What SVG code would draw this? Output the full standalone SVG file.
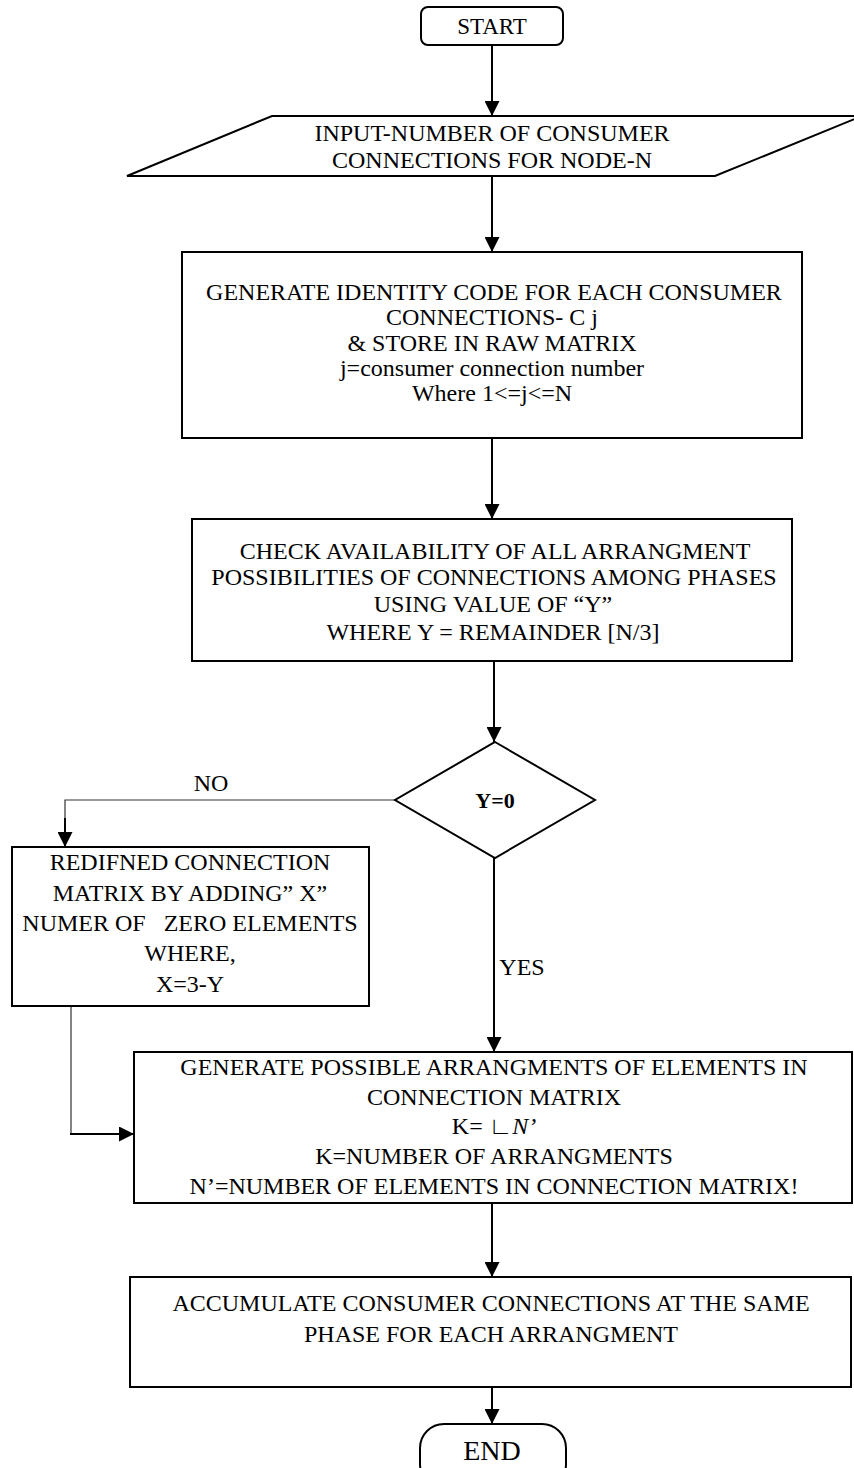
<svg xmlns="http://www.w3.org/2000/svg" width="854" height="1468" viewBox="0 0 854 1468">
<style>
  .box { fill: #fff; stroke: #000; stroke-width: 2; }
  .t { font-family: "Liberation Serif", "Times New Roman", serif; font-size: 24px; fill: #000; text-anchor: middle; white-space: pre; }
  .conn { fill: none; stroke: #000; stroke-width: 2; }
  .thin { fill: none; stroke: #333; stroke-width: 1.2; }
</style>
<defs>
  <marker id="arr" viewBox="0 0 15 15" refX="15" refY="7.5" markerWidth="15" markerHeight="15" markerUnits="userSpaceOnUse" orient="auto">
    <path d="M0,0 L15,7.5 L0,15 Z" fill="#000"/>
  </marker>
</defs>
<rect width="854" height="1468" fill="#fff"/>

<g id="connectors">
  <line class="conn" x1="492" y1="45" x2="492" y2="116" marker-end="url(#arr)"/>
  <line class="conn" x1="492" y1="176" x2="492" y2="252" marker-end="url(#arr)"/>
  <line class="conn" x1="492" y1="438" x2="492" y2="519" marker-end="url(#arr)"/>
  <line class="conn" x1="494" y1="661" x2="494" y2="742" marker-end="url(#arr)"/>
  <polyline class="thin" points="395,800 65,800 65,820"/>
  <line class="conn" x1="65" y1="818" x2="65" y2="847" marker-end="url(#arr)"/>
  <line class="conn" x1="494" y1="858" x2="494" y2="1052" marker-end="url(#arr)"/>
  <polyline class="thin" points="71,1006 71,1134 80,1134"/>
  <line class="conn" x1="70" y1="1134" x2="134" y2="1134" marker-end="url(#arr)"/>
  <line class="conn" x1="492" y1="1203" x2="492" y2="1277" marker-end="url(#arr)"/>
  <line class="conn" x1="492" y1="1387" x2="492" y2="1424" marker-end="url(#arr)"/>
  <text class="t" x="211" y="791">NO</text>
  <text class="t" x="522" y="975">YES</text>
</g>

<g id="start">
  <rect class="box" x="421" y="7" width="142" height="38" rx="7"/>
  <text class="t" x="492" y="34" style="font-size:23px">START</text>
</g>

<g id="input">
  <polygon class="box" points="272,116 862,116 715,176 127,176"/>
  <text class="t" x="492" y="141">INPUT-NUMBER OF CONSUMER</text>
  <text class="t" x="492" y="168">CONNECTIONS FOR NODE-N</text>
</g>

<g id="identity">
  <rect class="box" x="182" y="252" width="620" height="186"/>
  <text class="t" x="494" y="300">GENERATE IDENTITY CODE FOR EACH CONSUMER</text>
  <text class="t" x="492" y="325">CONNECTIONS- C j</text>
  <text class="t" x="492" y="351">&amp; STORE IN RAW MATRIX</text>
  <text class="t" x="492" y="376">j=consumer connection number</text>
  <text class="t" x="492" y="401">Where 1&lt;=j&lt;=N</text>
</g>

<g id="check">
  <rect class="box" x="192" y="519" width="600" height="142"/>
  <text class="t" x="495" y="559">CHECK AVAILABILITY OF ALL ARRANGMENT</text>
  <text class="t" x="494" y="585">POSSIBILITIES OF CONNECTIONS AMONG PHASES</text>
  <text class="t" x="493" y="612">USING VALUE OF “Y”</text>
  <text class="t" x="493" y="640">WHERE Y = REMAINDER [N/3]</text>
</g>

<g id="decision">
  <polygon class="box" points="495,742 595,800 495,858 395,800"/>
  <text class="t" x="495" y="808" style="font-weight:bold;font-size:22px">Y=0</text>
</g>

<g id="redefine">
  <rect class="box" x="12" y="847" width="357" height="159"/>
  <text class="t" x="190" y="870">REDIFNED CONNECTION</text>
  <text class="t" x="190" y="901">MATRIX BY ADDING” X”</text>
  <text class="t" x="190" y="931">NUMER OF   ZERO ELEMENTS</text>
  <text class="t" x="190" y="961">WHERE,</text>
  <text class="t" x="190" y="992">X=3-Y</text>
</g>

<g id="arrangements">
  <rect class="box" x="134" y="1052" width="718" height="151"/>
  <text class="t" x="494" y="1075">GENERATE POSSIBLE ARRANGMENTS OF ELEMENTS IN</text>
  <text class="t" x="494" y="1105">CONNECTION MATRIX</text>
  <text class="t" x="494" y="1134">K= ∟<tspan font-style="italic">N’</tspan></text>
  <text class="t" x="494" y="1164">K=NUMBER OF ARRANGMENTS</text>
  <text class="t" x="494" y="1194">N’=NUMBER OF ELEMENTS IN CONNECTION MATRIX!</text>
</g>

<g id="accumulate">
  <rect class="box" x="130" y="1277" width="721" height="110"/>
  <text class="t" x="491" y="1311">ACCUMULATE CONSUMER CONNECTIONS AT THE SAME</text>
  <text class="t" x="491" y="1342">PHASE FOR EACH ARRANGMENT</text>
</g>

<g id="end">
  <rect class="box" x="420" y="1424" width="146" height="64" rx="24"/>
  <text class="t" x="492" y="1460" style="font-size:28px">END</text>
</g>
</svg>
